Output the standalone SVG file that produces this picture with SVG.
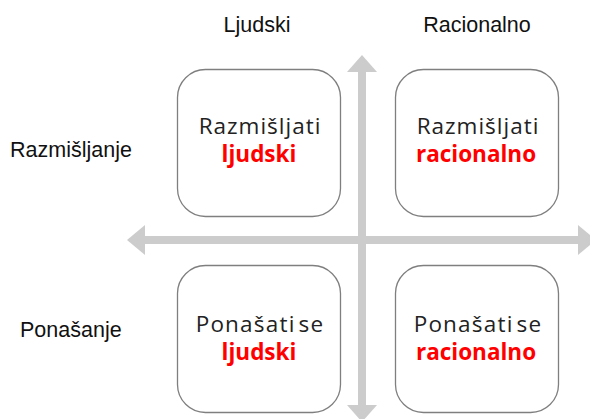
<svg xmlns="http://www.w3.org/2000/svg" width="590" height="419" viewBox="0 0 590 419">
<style>
.lbl{font-family:"Liberation Sans",Arial,sans-serif;font-size:21.5px;fill:#111}
.box{fill:#fff;stroke:#7f7f7f;stroke-width:1.3}
.t{font-family:"Open Sans","Noto Sans",sans-serif;font-size:22.5px;text-anchor:middle;fill:#222;letter-spacing:1px}
.p{letter-spacing:1.2px;word-spacing:-4px}
.r{fill:#ff0000;font-weight:bold;letter-spacing:0}
.ax{fill:#cccccc}
</style>
<rect width="590" height="419" fill="#fff"/>
<g id="connectors">
<rect class="ax" x="358" y="70" width="8" height="340"/>
<polygon class="ax" points="362,55 377,72 347,72"/>
<polygon class="ax" points="362,422 377,405 347,405"/>
<rect class="ax" x="143" y="236" width="440" height="8"/>
<polygon class="ax" points="127,240 145,225 145,255"/>
<polygon class="ax" points="596,240 578,225 578,255"/>
</g>
<g id="label-ljudski"><text class="lbl" x="257" y="32" text-anchor="middle">Ljudski</text></g>
<g id="label-racionalno"><text class="lbl" x="477" y="32" text-anchor="middle">Racionalno</text></g>
<g id="label-razmisljanje"><text class="lbl" x="10" y="157">Razmišljanje</text></g>
<g id="label-ponasanje"><text class="lbl" x="20" y="337">Ponašanje</text></g>
<g id="box-tl"><rect class="box" x="177.5" y="69.5" width="163" height="147" rx="28"/>
<text class="t" x="260" y="134">Razmišljati</text><text class="t r" x="259" y="162">ljudski</text></g>
<g id="box-tr"><rect class="box" x="395.5" y="69.5" width="163" height="147" rx="28"/>
<text class="t" x="478" y="134">Razmišljati</text><text class="t r" x="476" y="162">racionalno</text></g>
<g id="box-bl"><rect class="box" x="177.5" y="265.5" width="163" height="147" rx="28"/>
<text class="t p" x="260" y="332">Ponašati se</text><text class="t r" x="259" y="360">ljudski</text></g>
<g id="box-br"><rect class="box" x="395.5" y="265.5" width="163" height="147" rx="28"/>
<text class="t p" x="478" y="332">Ponašati se</text><text class="t r" x="476" y="360">racionalno</text></g>
</svg>
